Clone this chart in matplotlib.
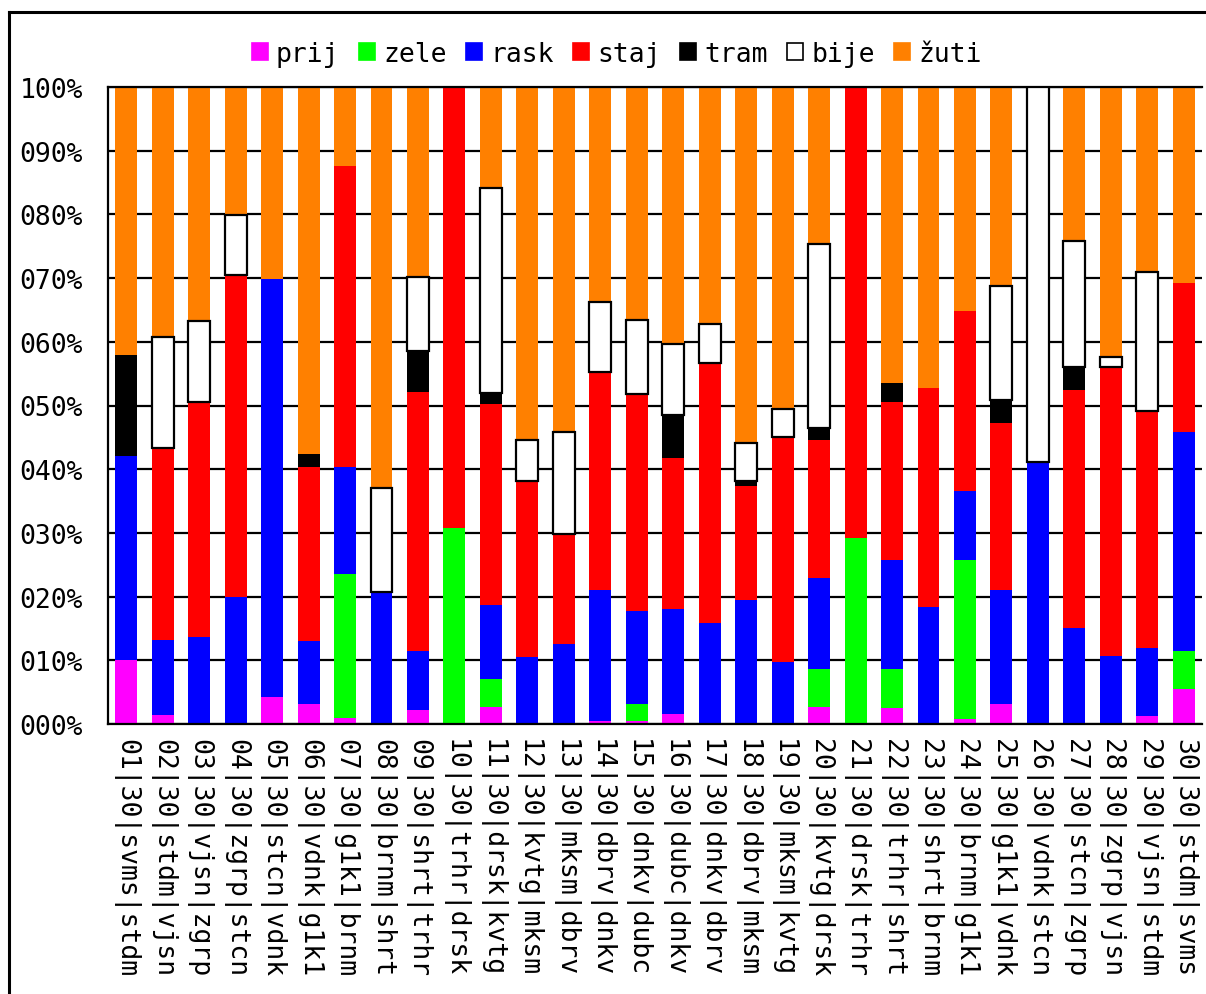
import matplotlib
matplotlib.use("Agg")
import matplotlib.pyplot as plt
import numpy as np
from matplotlib.lines import Line2D
from matplotlib.patches import Patch

plt.rcParams["font.family"] = ["DejaVu Sans Mono", "DejaVu Sans"]

# dane
nr = [f"{i:02d}" for i in range(1, 31)]
dana = ["30"] * 30
od = ["svms", "stdm", "vjsn", "zgrp", "stcn", "vdnk", "g1k1", "brnm", "shrt", "trhr",
      "drsk", "kvtg", "mksm", "dbrv", "dnkv", "dubc", "dnkv", "dbrv", "mksm", "kvtg",
      "drsk", "trhr", "shrt", "brnm", "g1k1", "vdnk", "stcn", "zgrp", "vjsn", "stdm"]
do = ["stdm", "vjsn", "zgrp", "stcn", "vdnk", "g1k1", "brnm", "shrt", "trhr", "drsk",
      "kvtg", "mksm", "dbrv", "dnkv", "dubc", "dnkv", "dbrv", "mksm", "kvtg", "drsk",
      "trhr", "shrt", "brnm", "g1k1", "vdnk", "stcn", "zgrp", "vjsn", "stdm", "svms"]

prij = [10.0, 1.4, 0, 0, 4.2, 3.1, 0.9, 0, 2.2, 0, 2.7, 0, 0, 0.4, 0.5,
        1.6, 0, 0, 0, 2.7, 0, 2.5, 0, 0.8, 3.1, 0, 0, 0, 1.3, 5.5]
zele = [0, 0, 0, 0, 0, 0, 22.7, 0, 0, 30.7, 4.3, 0, 0, 0, 2.6,
        0, 0, 0, 0, 6.0, 29.2, 6.2, 0, 24.9, 0, 0, 0, 0, 0, 6.0]
rask = [32.0, 11.8, 13.7, 20.0, 65.7, 9.9, 16.8, 20.7, 9.3, 0, 11.7, 10.5, 12.6, 20.6, 14.7,
        16.4, 15.8, 19.5, 9.8, 14.2, 0, 17.0, 18.4, 10.8, 17.9, 41.1, 15.0, 10.6, 10.6, 34.4]
staj = [0, 30.2, 36.8, 50.5, 0, 27.4, 47.2, 0, 40.6, 69.3, 31.5, 27.7, 17.3, 34.2, 34.0,
        23.7, 40.8, 17.8, 35.3, 21.7, 70.8, 24.9, 34.3, 28.4, 26.2, 0, 37.4, 45.4, 37.3, 23.3]
tram = [16.0, 0, 0, 0, 0, 2.0, 0, 0, 6.5, 0, 1.8, 0, 0, 0, 0,
        6.8, 0, 0.8, 0, 1.8, 0, 3.0, 0, 0, 3.7, 0, 3.7, 0, 0, 0]
bije = [0, 17.3, 12.8, 9.4, 0, 0, 0, 16.4, 11.5, 0, 32.2, 6.4, 16.0, 11.1, 11.6,
        11.1, 6.2, 6.0, 4.3, 28.9, 0, 0, 0, 0, 17.8, 58.9, 19.7, 1.6, 21.8, 0]
zuti = [42.0, 39.3, 36.7, 20.1, 30.1, 57.6, 12.4, 62.9, 29.9, 0, 15.8, 55.4, 54.1, 33.7, 36.6,
        40.4, 37.2, 55.9, 50.6, 24.7, 0, 46.4, 47.3, 35.1, 31.3, 0, 24.2, 42.4, 29.0, 30.8]

serije = [("prij", prij, "#ff00ff"), ("zele", zele, "#00ff00"), ("rask", rask, "#0000ff"),
          ("staj", staj, "#ff0000"), ("tram", tram, "#000000"), ("bije", bije, "#ffffff"),
          ("žuti", zuti, "#ff8000")]

oznake = [f"{a}|{b}|{c}|{d}" for a, b, c, d in zip(nr, dana, od, do)]

fig = plt.figure(figsize=(12.06, 9.95), dpi=100)
ax = fig.add_axes([108 / 1206, 1 - 725 / 995, (1202 - 108) / 1206, (725 - 88) / 995])

x = np.arange(len(oznake))
dno = np.zeros(len(oznake))
for ime, vr, boja in serije:
    vr = np.array(vr, dtype=float)
    if ime == "bije":
        m = vr > 0
        ax.bar(x[m], vr[m], bottom=dno[m], width=0.6, color=boja,
               edgecolor="black", linewidth=1.6, zorder=3)
    else:
        ax.bar(x, vr, bottom=dno, width=0.6, color=boja, linewidth=0, zorder=2)
    dno += vr

ax.set_xlim(-0.5, len(oznake) - 0.5)
ax.set_ylim(0, 100)
ax.set_yticks(range(0, 101, 10))
ax.set_yticklabels([f"{v:03d}%" for v in range(0, 101, 10)], fontsize=19)
ax.set_xticks(x)
ax.set_xticklabels(oznake, rotation=270, fontsize=19)
ax.tick_params(axis="both", length=0)
ax.tick_params(axis="y", pad=18)
ax.tick_params(axis="x", pad=10)
ax.yaxis.grid(True, color="black", linewidth=1.6)
ax.set_axisbelow(True)
ax.spines["right"].set_visible(False)
for s in ["left", "bottom", "top"]:
    ax.spines[s].set_linewidth(1.6)

rucke = []
for ime, vr, boja in serije:
    rucke.append(Patch(facecolor=boja, edgecolor="black" if ime == "bije" else boja,
                       linewidth=1.2, label=ime))
fig.legend(handles=rucke, loc="center", bbox_to_anchor=(617 / 1206, 1 - 55 / 995),
           ncol=7, frameon=False, fontsize=19, handlelength=0.6, handleheight=0.6,
           handletextpad=0.3, columnspacing=0.75)

# okvir slike
fig.add_artist(Line2D([9 / 1206, 9 / 1206], [0, 1 - 13 / 995], color="black", linewidth=2.2))
fig.add_artist(Line2D([9 / 1206, 1], [1 - 13 / 995, 1 - 13 / 995], color="black", linewidth=2.2))

fig.savefig("out.png", dpi=100)
